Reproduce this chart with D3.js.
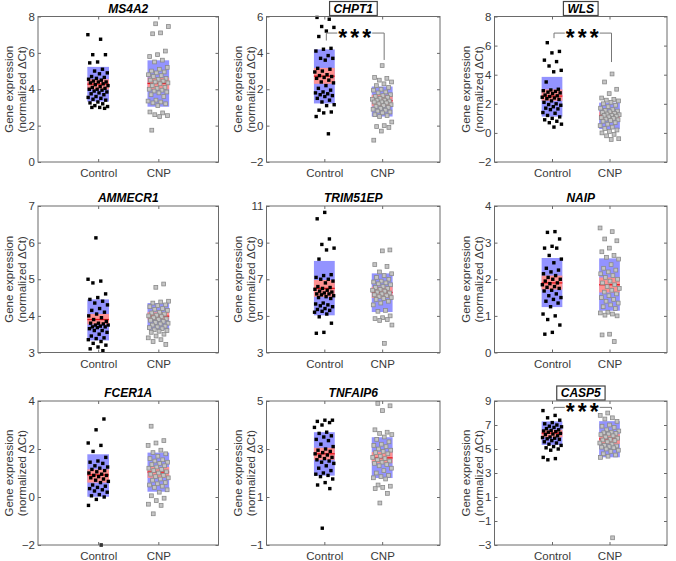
<!DOCTYPE html>
<html>
<head>
<meta charset="utf-8">
<script src="https://cdn.jsdelivr.net/npm/d3@7"></script>
<style>
  html, body { margin: 0; padding: 0; background: #fff; }
  svg { display: block; font-family: "Liberation Sans", Arial, Helvetica, sans-serif; }
</style>
</head>
<body>
<svg id="chart" width="676" height="561"></svg>
<script>
// ---------------- DATA ----------------
const genes = ["MS4A2", "CHPT1", "WLS", "AMMECR1", "TRIM51EP", "NAIP", "FCER1A", "TNFAIP6", "CASP5"];
const groups = ["Control", "CNP"];
const boxedTitles = ["CHPT1", "WLS", "CASP5"];

const yDomains = [[0, 8], [-2, 6], [-2, 8], [3, 7], [3, 11], [0, 4], [-2, 4], [-1, 5], [-3, 9]];
const yTicks = [
  [0, 2, 4, 6, 8], [-2, 0, 2, 4, 6], [-2, 0, 2, 4, 6, 8],
  [3, 4, 5, 6, 7], [3, 5, 7, 9, 11], [0, 1, 2, 3, 4],
  [-2, 0, 2, 4], [-1, 1, 3, 5], [-3, -1, 1, 3, 5, 7, 9]
];

// individual samples (normalized ΔCt)
const ms4a2Control = [7.0, 6.75, 5.9, 5.9, 5.5, 5.45, 5.1, 5.0, 4.9, 4.85, 4.7, 4.65, 4.6, 4.55, 4.5, 4.45, 4.4, 4.4, 4.35, 4.3, 4.25, 4.2, 4.15, 4.1, 4.05, 4.0, 4.0, 3.95, 3.9, 3.85, 3.8, 3.75, 3.7, 3.6, 3.55, 3.5, 3.45, 3.4, 3.3, 3.25, 3.2, 3.1, 3.05, 3.0, 3.0, 2.95];
const ms4a2CNP = [7.6, 7.45, 7.1, 7.05, 6.1, 5.9, 5.8, 5.6, 5.5, 5.2, 5.1, 5.0, 4.95, 4.9, 4.8, 4.75, 4.7, 4.6, 4.55, 4.5, 4.45, 4.4, 4.35, 4.3, 4.2, 4.1, 4.05, 4.0, 3.95, 3.9, 3.85, 3.8, 3.7, 3.6, 3.4, 3.35, 3.3, 3.25, 3.2, 3.1, 2.75, 2.7, 2.6, 2.55, 2.5, 1.75];

const chpt1Control = [5.95, 5.85, 5.45, 5.4, 5.2, 4.9, 4.25, 4.2, 4.1, 3.85, 3.7, 3.7, 3.6, 3.15, 3.1, 3.0, 2.95, 2.8, 2.75, 2.7, 2.65, 2.6, 2.5, 2.4, 2.35, 2.2, 2.05, 1.95, 1.85, 1.8, 1.75, 1.7, 1.65, 1.6, 1.5, 1.4, 1.3, 1.15, 1.1, 0.85, 0.75, 0.7, 0.5, -0.45];
const chpt1CNP = [3.3, 2.65, 2.6, 2.5, 2.4, 2.3, 2.2, 2.1, 2.0, 1.95, 1.85, 1.8, 1.7, 1.65, 1.6, 1.55, 1.5, 1.45, 1.4, 1.4, 1.35, 1.3, 1.3, 1.25, 1.2, 1.15, 1.1, 1.05, 1.0, 0.95, 0.9, 0.85, 0.8, 0.75, 0.7, 0.6, 0.55, 0.5, 0.2, 0.0, -0.05, -0.1, -0.3, -0.8];

const wlsControl = [6.2, 5.6, 5.5, 5.0, 4.9, 4.6, 4.3, 4.2, 3.5, 3.0, 2.95, 2.9, 2.85, 2.8, 2.75, 2.7, 2.6, 2.55, 2.5, 2.45, 2.4, 2.35, 2.3, 2.2, 2.1, 2.0, 1.95, 1.9, 1.8, 1.7, 1.65, 1.6, 1.4, 1.35, 1.2, 1.1, 1.0, 0.9, 0.8, 0.7, 0.6, 0.4];
const wlsCNP = [4.05, 3.5, 3.0, 2.7, 2.4, 2.3, 2.25, 2.2, 2.1, 2.0, 1.9, 1.8, 1.7, 1.6, 1.55, 1.5, 1.45, 1.4, 1.35, 1.3, 1.25, 1.2, 1.2, 1.15, 1.1, 1.05, 1.0, 0.95, 0.9, 0.85, 0.8, 0.7, 0.6, 0.5, 0.4, 0.3, 0.2, 0.1, 0.0, -0.1, -0.2, -0.4, -0.45];

const ammecr1Control = [6.13, 5.0, 4.95, 4.9, 4.6, 4.5, 4.45, 4.4, 4.35, 4.3, 4.2, 4.15, 4.1, 4.05, 4.0, 3.95, 3.9, 3.85, 3.8, 3.8, 3.78, 3.75, 3.75, 3.72, 3.7, 3.7, 3.68, 3.65, 3.6, 3.6, 3.55, 3.5, 3.45, 3.4, 3.38, 3.35, 3.3, 3.25, 3.2, 3.15, 3.1, 3.05];
const ammecr1CNP = [4.87, 4.78, 4.4, 4.38, 4.35, 4.3, 4.28, 4.25, 4.2, 4.18, 4.15, 4.1, 4.08, 4.05, 4.02, 4.0, 3.98, 3.95, 3.92, 3.9, 3.88, 3.85, 3.82, 3.8, 3.78, 3.75, 3.72, 3.7, 3.68, 3.65, 3.62, 3.6, 3.58, 3.55, 3.5, 3.45, 3.4, 3.35, 3.3, 3.22];

const trim51epControl = [10.65, 10.3, 9.2, 8.9, 8.7, 8.6, 8.1, 7.25, 7.2, 7.1, 7.0, 7.0, 6.9, 6.8, 6.6, 6.55, 6.5, 6.45, 6.4, 6.35, 6.3, 6.25, 6.2, 6.2, 6.15, 6.1, 6.05, 6.0, 5.95, 5.7, 5.65, 5.6, 5.55, 5.5, 5.4, 5.35, 5.3, 5.25, 5.2, 5.1, 4.95, 4.6, 4.1, 4.05];
const trim51epCNP = [8.6, 8.55, 7.8, 7.7, 7.4, 7.3, 7.2, 7.1, 7.0, 6.9, 6.85, 6.8, 6.75, 6.7, 6.6, 6.55, 6.5, 6.45, 6.4, 6.35, 6.3, 6.25, 6.2, 6.15, 6.1, 6.05, 6.0, 5.95, 5.9, 5.8, 5.7, 5.6, 5.3, 5.25, 5.0, 4.9, 4.85, 4.8, 4.75, 4.5, 3.5];

const naipControl = [3.3, 3.28, 3.1, 2.9, 2.85, 2.85, 2.65, 2.55, 2.45, 2.3, 2.25, 2.2, 2.15, 2.1, 2.05, 2.0, 2.0, 1.95, 1.9, 1.88, 1.85, 1.8, 1.78, 1.75, 1.7, 1.68, 1.6, 1.55, 1.5, 1.45, 1.4, 1.35, 1.25, 1.05, 1.0, 0.9, 0.75, 0.55, 0.5];
const naipCNP = [3.4, 3.3, 3.1, 3.05, 2.85, 2.75, 2.65, 2.6, 2.55, 2.4, 2.3, 2.25, 2.2, 2.15, 2.1, 2.05, 2.0, 1.95, 1.9, 1.85, 1.8, 1.75, 1.7, 1.65, 1.6, 1.55, 1.5, 1.45, 1.4, 1.35, 1.3, 1.25, 1.2, 1.1, 1.08, 1.05, 1.02, 1.0, 0.5, 0.48, 0.3];

const fcer1aControl = [3.25, 2.8, 2.25, 2.15, 1.9, 1.65, 1.5, 1.45, 1.4, 1.3, 1.25, 1.2, 1.15, 1.1, 1.05, 1.0, 0.95, 0.9, 0.9, 0.85, 0.8, 0.75, 0.7, 0.65, 0.6, 0.5, 0.45, 0.4, 0.35, 0.3, 0.25, 0.2, 0.1, 0.05, 0.0, -0.1, -0.35, -2.0];
const fcer1aCNP = [2.95, 2.35, 2.25, 2.15, 1.95, 1.85, 1.8, 1.7, 1.6, 1.55, 1.5, 1.45, 1.4, 1.35, 1.3, 1.25, 1.2, 1.15, 1.1, 1.05, 1.0, 0.95, 0.9, 0.85, 0.8, 0.75, 0.7, 0.6, 0.55, 0.5, 0.45, 0.4, 0.3, 0.2, 0.05, -0.05, -0.15, -0.3, -0.35, -0.7];

const tnfaip6Control = [4.2, 4.2, 4.15, 4.1, 4.0, 3.9, 3.7, 3.65, 3.55, 3.5, 3.4, 3.35, 3.2, 3.1, 3.0, 2.95, 2.9, 2.85, 2.8, 2.75, 2.7, 2.65, 2.6, 2.55, 2.5, 2.45, 2.4, 2.3, 2.2, 2.1, 2.0, 1.95, 1.9, 1.85, 1.75, 1.6, 1.5, 1.35, -0.3];
const tnfaip6CNP = [4.9, 4.8, 4.6, 3.8, 3.7, 3.65, 3.6, 3.5, 3.4, 3.3, 3.2, 3.15, 3.1, 3.0, 2.95, 2.9, 2.85, 2.8, 2.7, 2.65, 2.6, 2.55, 2.5, 2.45, 2.4, 2.35, 2.3, 2.2, 2.1, 2.0, 1.9, 1.85, 1.8, 1.75, 1.5, 1.45, 1.4, 1.35, 1.15, 0.75];

const casp5Control = [8.2, 7.8, 7.6, 7.4, 7.2, 7.1, 7.0, 6.9, 6.85, 6.8, 6.7, 6.6, 6.55, 6.5, 6.45, 6.4, 6.3, 6.25, 6.2, 6.1, 6.0, 5.95, 5.9, 5.85, 5.8, 5.7, 5.6, 5.5, 5.4, 5.3, 5.2, 5.1, 5.0, 4.9, 4.3, 4.2, 4.1];
const casp5CNP = [8.0, 7.8, 7.6, 7.5, 7.3, 7.0, 6.9, 6.8, 6.6, 6.5, 6.4, 6.35, 6.3, 6.25, 6.2, 6.1, 6.0, 5.9, 5.8, 5.75, 5.7, 5.6, 5.5, 5.4, 5.3, 5.25, 5.2, 5.15, 5.1, 5.0, 4.9, 4.8, 4.6, 4.5, 4.4, 4.3, -2.4];

const controlValues = [ms4a2Control, chpt1Control, wlsControl, ammecr1Control, trim51epControl, naipControl, fcer1aControl, tnfaip6Control, casp5Control];
const cnpValues = [ms4a2CNP, chpt1CNP, wlsCNP, ammecr1CNP, trim51epCNP, naipCNP, fcer1aCNP, tnfaip6CNP, casp5CNP];

// summary per gene: [mean, 95% CI low, 95% CI high, SD low, SD high]
const controlStats = [
  [4.28, 3.99, 4.55, 3.32, 5.23], [2.72, 2.30, 3.17, 1.22, 4.19], [2.53, 2.21, 2.99, 1.12, 3.85],
  [3.90, 3.77, 4.05, 3.33, 4.45], [6.50, 6.04, 6.96, 5.03, 8.00], [1.90, 1.72, 2.10, 1.24, 2.58],
  [0.92, 0.60, 1.15, 0.01, 1.78], [2.80, 2.55, 3.05, 1.89, 3.70], [6.32, 5.98, 6.60, 5.34, 7.30]
];
const cnpStats = [
  [4.32, 3.99, 4.64, 3.04, 5.59], [1.37, 1.06, 1.69, 0.50, 2.15], [1.19, 0.94, 1.46, 0.26, 2.08],
  [3.99, 3.90, 4.10, 3.62, 4.35], [6.28, 5.98, 6.59, 5.21, 7.32], [1.85, 1.64, 2.05, 1.14, 2.57],
  [1.04, 0.80, 1.25, 0.22, 1.85], [2.63, 2.41, 2.87, 1.79, 3.49], [5.84, 5.42, 6.26, 4.31, 7.32]
];

// significance brackets: gene, bar level, left leg end, right leg end
const sigGenes = ["CHPT1", "WLS", "CASP5"];
const sigLevels = [5.09, 6.86, 8.47];
const sigLeftEnds = [4.68, 6.51, 8.30];
const sigRightEnds = [3.61, 4.87, 8.30];
const sigLabel = "***";

// ---------------- LAYOUT ----------------
const colX = [[38, 218.5], [266.5, 440], [494.5, 667]];
const rowY = [[16.5, 162], [206, 352.5], [401, 545]];
const titleSize = 12;
const font = 11.5;

const svg = d3.select("#chart");

genes.forEach((gene, gi) => {
  const col = gi % 3, row = Math.floor(gi / 3);
  const [x0, x1] = colX[col];
  const [y0, y1] = rowY[row];
  const g = svg.append("g");

  const x = d3.scaleLinear().domain([0, 3]).range([x0, x1]);
  const y = d3.scaleLinear().domain(yDomains[gi]).range([y1, y0]);
  const boxHalf = (x(0.36) - x(0)) / 2;

  // boxes
  [controlStats[gi], cnpStats[gi]].forEach((s, k) => {
    const cx = x(k + 1);
    g.append("rect").attr("x", cx - boxHalf).attr("width", boxHalf * 2)
      .attr("y", y(s[4])).attr("height", y(s[3]) - y(s[4]))
      .attr("fill", "#9393ff");
    g.append("rect").attr("x", cx - boxHalf).attr("width", boxHalf * 2)
      .attr("y", y(s[2])).attr("height", y(s[1]) - y(s[2]))
      .attr("fill", "#ff9191");
    g.append("line").attr("x1", cx - boxHalf).attr("x2", cx + boxHalf)
      .attr("y1", y(s[0])).attr("y2", y(s[0]))
      .attr("stroke", "#e8141a").attr("stroke-width", 1.3);
  });

  // points
  [controlValues[gi], cnpValues[gi]].forEach((vals, k) => {
    const cx = x(k + 1);
    const sz = k === 0 ? 3.4 : 3.8;
    g.selectAll(null).data(vals).enter().append("rect")
      .attr("x", (d, i) => cx + (((i * 0.6180339 + gi * 0.13 + k * 0.37) % 1) - 0.5) * 2 * (boxHalf * 0.95) - sz / 2)
      .attr("y", d => y(d) - sz / 2)
      .attr("width", sz).attr("height", sz)
      .attr("fill", k === 0 ? "#000" : "#c4c4c4")
      .attr("stroke", k === 0 ? "none" : "#8a8a8a")
      .attr("stroke-width", k === 0 ? 0 : 0.8);
  });

  // frame
  g.append("rect").attr("x", x0).attr("y", y0).attr("width", x1 - x0).attr("height", y1 - y0)
    .attr("fill", "none").attr("stroke", "#6a6a6a").attr("stroke-width", 1);

  // axes ticks + labels
  const yAxis = d3.axisLeft(y).tickValues(yTicks[gi]).tickSize(-3).tickPadding(3).tickFormat(d3.format("d"));
  const ya = g.append("g").attr("transform", `translate(${x0},0)`).call(yAxis);
  const yAxisR = d3.axisRight(y).tickValues(yTicks[gi]).tickSize(-3).tickFormat("");
  const yr = g.append("g").attr("transform", `translate(${x1},0)`).call(yAxisR);
  const xAxis = d3.axisBottom(x).tickValues([1, 2]).tickSize(-3).tickPadding(7).tickFormat((d, i) => groups[i]);
  const xa = g.append("g").attr("transform", `translate(0,${y1})`).call(xAxis);
  const xAxisT = d3.axisTop(x).tickValues([1, 2]).tickSize(-3).tickFormat("");
  const xt = g.append("g").attr("transform", `translate(0,${y0})`).call(xAxisT);
  [ya, yr, xa, xt].forEach(a => {
    a.select(".domain").remove();
    a.selectAll(".tick line").attr("stroke", "#6a6a6a");
    a.selectAll("text").attr("fill", "#3a3a3a").style("font-size", font + "px")
      .style("font-family", "'Liberation Sans', Arial, sans-serif");
  });

  // y label
  const ym = (y0 + y1) / 2;
  const yl = g.append("text").attr("transform", `translate(${x0 - 29},${ym}) rotate(-90)`)
    .attr("text-anchor", "middle").attr("fill", "#3a3a3a").style("font-size", "11.5px");
  yl.append("tspan").attr("x", 0).attr("dy", "0.35em").text("Gene expression");
  yl.append("tspan").attr("x", 0).attr("dy", "1.15em").text("(normalized \u0394Ct)");

  // title
  const tx = (x0 + x1) / 2;
  const isBoxed = boxedTitles.includes(gene);
  const boxRect = isBoxed ? g.append("rect") : null;
  const title = g.append("text").attr("x", tx).attr("y", y0 - 4)
    .attr("text-anchor", "middle").attr("fill", "#000")
    .style("font-size", titleSize + "px").style("font-weight", "bold").style("font-style", "italic")
    .text(gene);
  if (isBoxed) {
    const bb = title.node().getBBox();
    boxRect.attr("x", bb.x - 4).attr("y", y0 - 15).attr("width", bb.width + 8).attr("height", 14)
      .attr("fill", "#fff").attr("stroke", "#444").attr("stroke-width", 1.2);
  }

  // significance
  const si = sigGenes.indexOf(gene);
  if (si >= 0) {
    const xl = x(1) + 2, xr = x(2) + 2;
    const yb = y(sigLevels[si]);
    const mid = (xl + xr) / 2;
    const t = g.append("text").attr("x", mid + 1).attr("y", yb + 13)
      .attr("text-anchor", "middle").attr("fill", "#000")
      .style("font-size", "23px").style("font-weight", "bold").style("letter-spacing", "3px").text(sigLabel);
    const tb = t.node().getBBox();
    const gapL = tb.x - 1, gapR = tb.x + tb.width - 2;
    const path = d3.path();
    path.moveTo(xl, y(sigLeftEnds[si])); path.lineTo(xl, yb); path.lineTo(gapL, yb);
    path.moveTo(gapR, yb); path.lineTo(xr, yb); path.lineTo(xr, y(sigRightEnds[si]));
    g.append("path").attr("d", path.toString()).attr("fill", "none")
      .attr("stroke", "#777").attr("stroke-width", 1);
  }
});
</script>
</body>
</html>
